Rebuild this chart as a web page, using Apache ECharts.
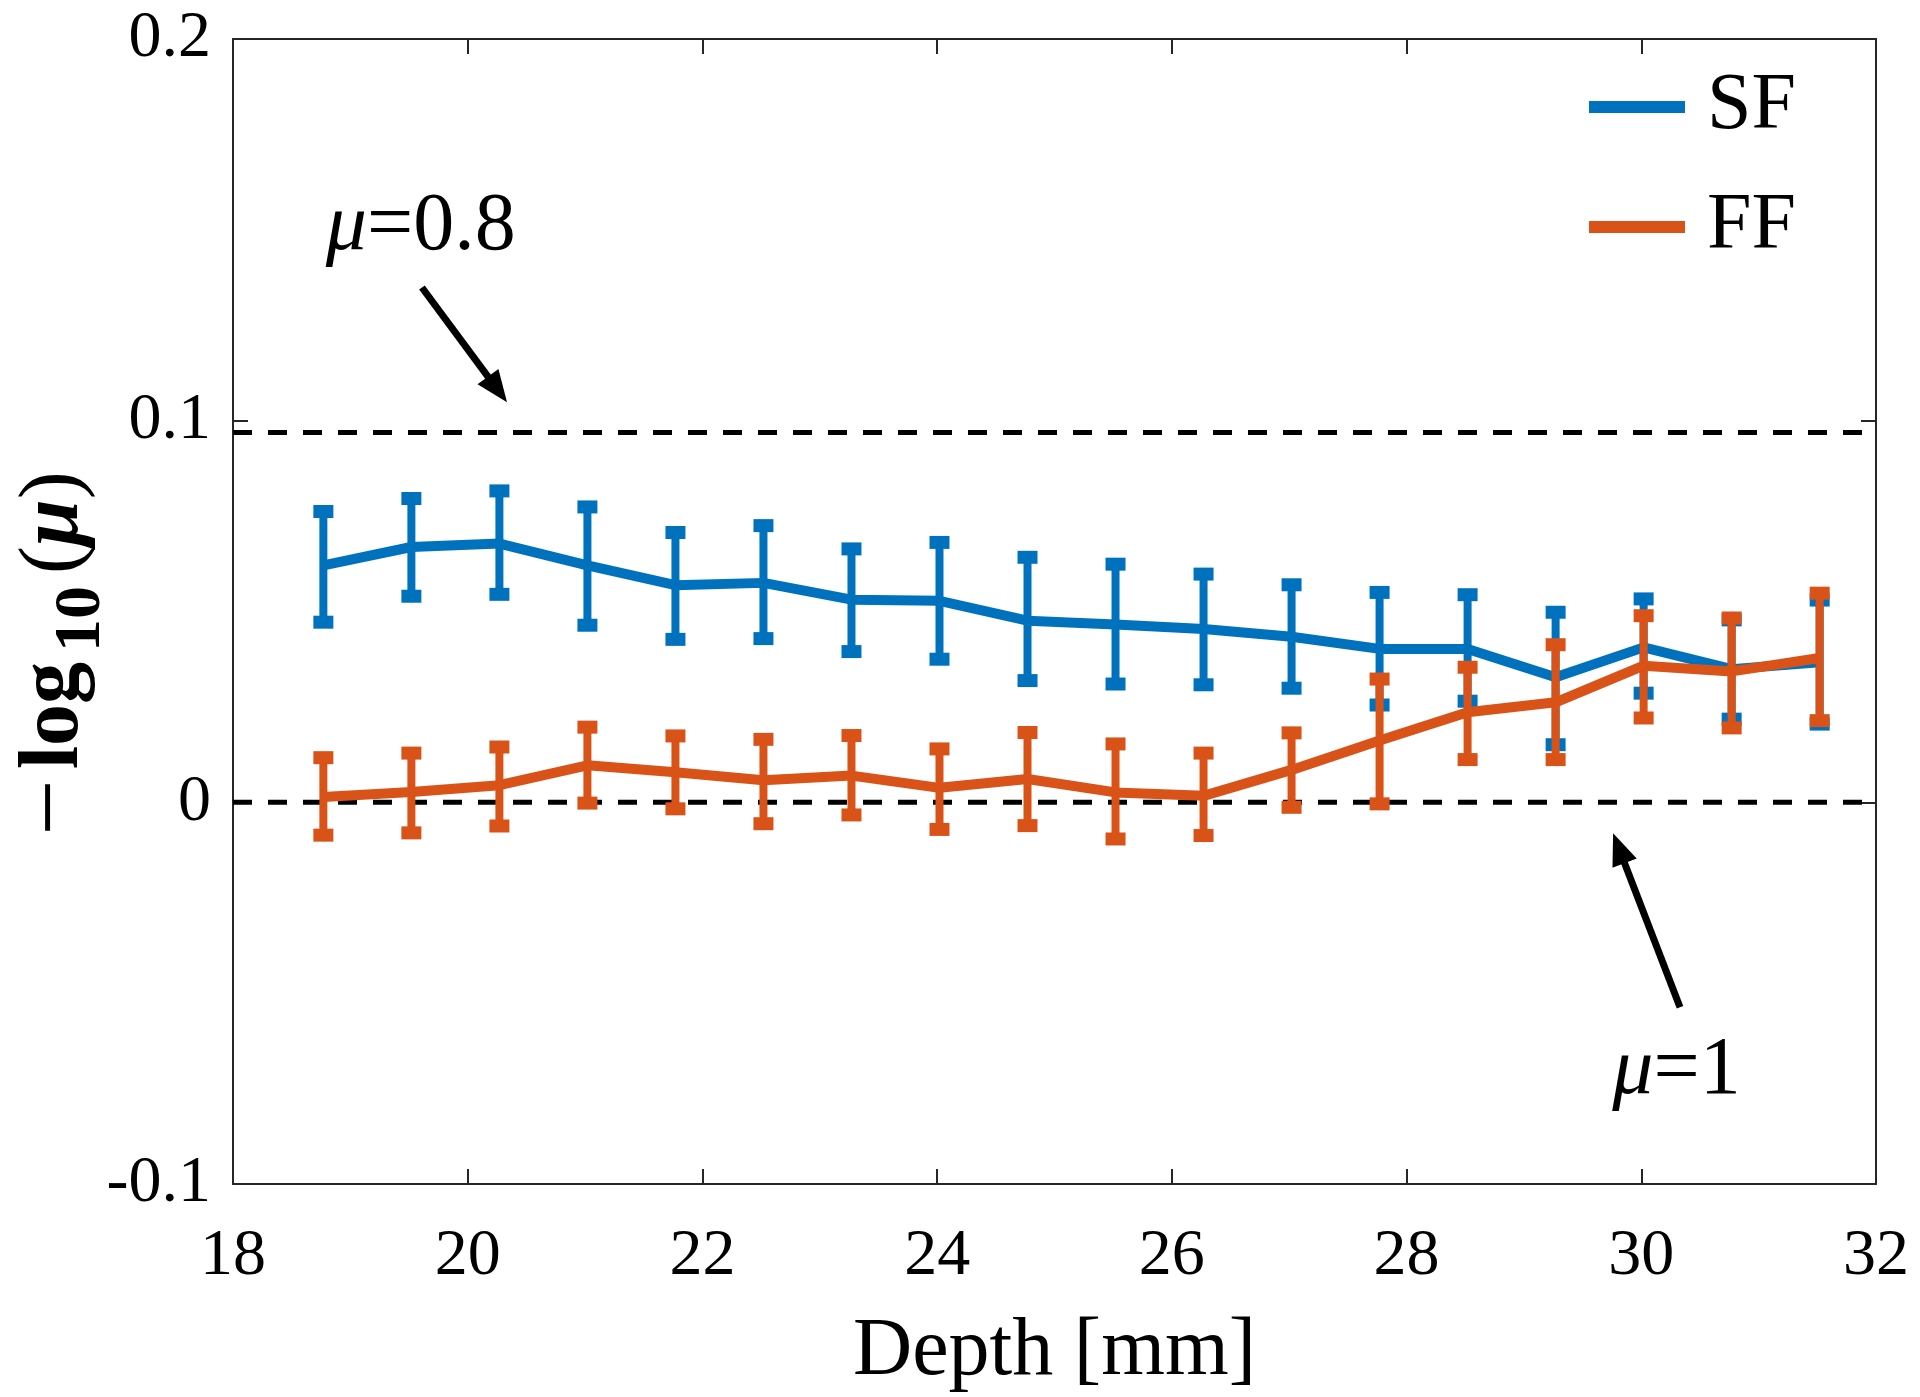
<!DOCTYPE html>
<html>
<head>
<meta charset="utf-8">
<script src="https://cdn.jsdelivr.net/npm/echarts@6/dist/echarts.min.js"></script>
<style>
  html, body { margin: 0; padding: 0; background: #ffffff; }
  #chart { width: 1920px; height: 1397px; }
</style>
</head>
<body>
<div id="chart"></div>
<script>
// ---------------- DATA ----------------
const depth = [18.77, 19.52, 20.27, 21.02, 21.77, 22.52, 23.27, 24.02, 24.77, 25.52, 26.27, 27.02, 27.77, 28.52, 29.27, 30.02, 30.77, 31.52];

const sfMean = [0.0621, 0.0669, 0.0678, 0.0621, 0.0569, 0.0575, 0.0531, 0.0528, 0.0476, 0.0466, 0.0454, 0.0434, 0.0402, 0.0402, 0.0328, 0.0406, 0.0349, 0.0367];
const sfLow  = [0.0472, 0.0540, 0.0545, 0.0464, 0.0427, 0.0429, 0.0395, 0.0375, 0.0319, 0.0310, 0.0308, 0.0299, 0.0255, 0.0265, 0.0151, 0.0286, 0.0218, 0.0205];
const sfHigh = [0.0762, 0.0796, 0.0816, 0.0774, 0.0707, 0.0725, 0.0664, 0.0681, 0.0642, 0.0624, 0.0598, 0.0570, 0.0550, 0.0544, 0.0498, 0.0533, 0.0478, 0.0530];

const ffMean = [0.0014, 0.0027, 0.0045, 0.0097, 0.0079, 0.0058, 0.0070, 0.0038, 0.0061, 0.0026, 0.0017, 0.0085, 0.0162, 0.0236, 0.0262, 0.0358, 0.0343, 0.0378];
const ffLow  = [-0.0086, -0.0080, -0.0062, -0.0002, -0.0017, -0.0056, -0.0033, -0.0071, -0.0061, -0.0096, -0.0087, -0.0013, -0.0004, 0.0112, 0.0112, 0.0221, 0.0195, 0.0214];
const ffHigh = [0.0117, 0.0129, 0.0145, 0.0197, 0.0174, 0.0165, 0.0175, 0.0140, 0.0183, 0.0153, 0.0129, 0.0182, 0.0323, 0.0354, 0.0413, 0.0489, 0.0483, 0.0548];

const seriesNames = ['SF', 'FF'];
const refLineValues = [0.0969, 0];          // dashed lines: mu = 0.8, mu = 1
const xTickLabels = ['18', '20', '22', '24', '26', '28', '30', '32'];
const yTickLabels = ['-0.1', '0', '0.1', '0.2'];

// annotations (data coordinates)
const annotTexts = ['{i|μ}=0.8', '{i|μ}=1'];
const annotX = [19.60, 30.30];
const annotY = [0.1505, -0.0705];
const arrowFrom = [[19.61, 0.1349], [30.33, -0.0537]];
const arrowTo   = [[20.335, 0.1048], [29.76, -0.0081]];

// ---------------- STYLE ----------------
const FONT = "'Liberation Serif', 'Times New Roman', serif";
const BLUE = '#0072BD';
const ORANGE = '#D95319';
const AXIS = '#262626';

const xMin = 18, xMax = 32, xInterval = 2;
const yMin = -0.1, yMax = 0.2, yInterval = 0.1;

function errRender(color) {
  return function (params, api) {
    const x = api.value(0), lo = api.value(1), hi = api.value(2);
    const pLo = api.coord([x, lo]);
    const pHi = api.coord([x, hi]);
    const capW = 20, capH = 13;
    return {
      type: 'group',
      children: [
        { type: 'line', shape: { x1: pLo[0], y1: pLo[1], x2: pHi[0], y2: pHi[1] }, style: { stroke: color, lineWidth: 8 } },
        { type: 'rect', shape: { x: pHi[0] - capW / 2, y: pHi[1] - capH / 2, width: capW, height: capH }, style: { fill: color } },
        { type: 'rect', shape: { x: pLo[0] - capW / 2, y: pLo[1] - capH / 2, width: capW, height: capH }, style: { fill: color } }
      ]
    };
  };
}

function refLineRender(params, api) {
  const v = api.value(0);
  const a = api.coord([xMin, v]);
  const b = api.coord([xMax, v]);
  return {
    type: 'line',
    shape: { x1: a[0], y1: a[1], x2: b[0], y2: b[1] },
    style: { stroke: '#000', lineWidth: 5, lineDash: [19, 16] }
  };
}

function arrowRender(params, api) {
  const a = api.coord([api.value(0), api.value(1)]);
  const b = api.coord([api.value(2), api.value(3)]);
  const dx = b[0] - a[0], dy = b[1] - a[1];
  const len = Math.sqrt(dx * dx + dy * dy);
  const ux = dx / len, uy = dy / len;
  const headL = 32, headW = 13;
  const base = [b[0] - ux * headL, b[1] - uy * headL];
  const px = -uy, py = ux;
  return {
    type: 'group',
    children: [
      { type: 'line', shape: { x1: a[0], y1: a[1], x2: base[0] + ux * 4, y2: base[1] + uy * 4 }, style: { stroke: '#000', lineWidth: 7 } },
      { type: 'polygon', shape: { points: [[b[0], b[1]], [base[0] + px * headW, base[1] + py * headW], [base[0] - px * headW, base[1] - py * headW]] }, style: { fill: '#000' } }
    ]
  };
}

function textRender(params, api) {
  const p = api.coord([api.value(0), api.value(1)]);
  return {
    type: 'text',
    x: p[0], y: p[1],
    style: {
      text: annotTexts[params.dataIndex],
      fontFamily: FONT, fontSize: 82, fill: '#000',
      align: 'center', verticalAlign: 'middle',
      rich: { i: { fontFamily: FONT, fontSize: 82, fontStyle: 'italic', fill: '#000' } }
    }
  };
}

const chart = echarts.init(document.getElementById('chart'), null, { renderer: 'canvas' });

const yLabelFmt = function (v) {
  const idx = Math.round((v - yMin) / yInterval);
  return yTickLabels[idx] !== undefined ? yTickLabels[idx] : '';
};
const xLabelFmt = function (v) {
  const idx = Math.round((v - xMin) / xInterval);
  return xTickLabels[idx] !== undefined ? xTickLabels[idx] : '';
};

const yName = '{m|−}{l|log}{s|10}{p|(}{mu|μ}{p|)}';

const option = {
  animation: false,
  backgroundColor: '#ffffff',
  grid: { left: 233, right: 44, top: 39, bottom: 213, containLabel: false, outerBoundsMode: 'none' },
  legend: {
    orient: 'vertical',
    left: 1584, top: 62,
    itemWidth: 96, itemHeight: 12, itemGap: 40,
    icon: 'rect',
    data: [{ name: seriesNames[0], icon: 'rect' }, { name: seriesNames[1], icon: 'rect' }],
    textStyle: { fontFamily: FONT, fontSize: 80, color: '#000', lineHeight: 80, padding: [0, 0, 0, 17] },
    selectedMode: false
  },
  xAxis: [
    {
      type: 'value', min: xMin, max: xMax, interval: xInterval, position: 'bottom',
      name: 'Depth [mm]', nameLocation: 'middle', nameGap: 168, nameMoveOverlap: false,
      nameTextStyle: { fontFamily: FONT, fontSize: 82, color: '#000', verticalAlign: 'middle' },
      axisLine: { show: true, onZero: false, lineStyle: { color: AXIS, width: 2 } },
      axisTick: { show: true, inside: true, length: 15, lineStyle: { color: AXIS, width: 2 } },
      axisLabel: { show: true, fontFamily: FONT, fontSize: 66, color: '#000', margin: 40, formatter: xLabelFmt },
      splitLine: { show: false }
    },
    {
      type: 'value', min: xMin, max: xMax, interval: xInterval, position: 'top',
      axisLine: { show: true, onZero: false, lineStyle: { color: AXIS, width: 2 } },
      axisTick: { show: true, inside: true, length: 15, lineStyle: { color: AXIS, width: 2 } },
      axisLabel: { show: false },
      splitLine: { show: false }
    }
  ],
  yAxis: [
    {
      type: 'value', min: yMin, max: yMax, interval: yInterval, position: 'left',
      name: yName, nameLocation: 'middle', nameGap: 118, nameRotate: 90, nameMoveOverlap: false,
      nameTextStyle: {
        fontFamily: FONT, fontSize: 84, color: '#000',
        padding: [0, 84, 0, 0],
        rich: {
          m: { fontFamily: FONT, fontSize: 100, color: '#000', lineHeight: 120, verticalAlign: 'middle', padding: [0, 10, 0, 0] },
          l: { fontFamily: FONT, fontSize: 84, fontWeight: 'bold', color: '#000', lineHeight: 120, verticalAlign: 'middle' },
          s: { fontFamily: FONT, fontSize: 66, fontWeight: 'bold', color: '#000', lineHeight: 72, verticalAlign: 'bottom', padding: [0, 12, 0, 10] },
          p: { fontFamily: FONT, fontSize: 84, color: '#000', lineHeight: 120, verticalAlign: 'middle' },
          mu: { fontFamily: FONT, fontSize: 84, fontWeight: 'bold', fontStyle: 'italic', color: '#000', lineHeight: 120, verticalAlign: 'middle' }
        }
      },
      axisLine: { show: true, onZero: false, lineStyle: { color: AXIS, width: 2 } },
      axisTick: { show: true, inside: true, length: 15, lineStyle: { color: AXIS, width: 2 } },
      axisLabel: { show: true, fontFamily: FONT, fontSize: 66, color: '#000', margin: 22, formatter: yLabelFmt },
      splitLine: { show: false }
    },
    {
      type: 'value', min: yMin, max: yMax, interval: yInterval, position: 'right',
      axisLine: { show: true, onZero: false, lineStyle: { color: AXIS, width: 2 } },
      axisTick: { show: true, inside: true, length: 15, lineStyle: { color: AXIS, width: 2 } },
      axisLabel: { show: false },
      splitLine: { show: false }
    }
  ],
  series: [
    {
      name: 'refLines', type: 'custom', z: 1, renderItem: refLineRender,
      data: refLineValues.map(v => [v])
    },
    {
      name: 'SF-err', type: 'custom', z: 2, renderItem: errRender(BLUE),
      data: depth.map((d, i) => [d, sfLow[i], sfHigh[i]])
    },
    {
      name: seriesNames[0], type: 'line', z: 3, showSymbol: false, symbol: 'none',
      color: BLUE, lineStyle: { color: BLUE, width: 10 },
      data: depth.map((d, i) => [d, sfMean[i]])
    },
    {
      name: 'FF-err', type: 'custom', z: 4, renderItem: errRender(ORANGE),
      data: depth.map((d, i) => [d, ffLow[i], ffHigh[i]])
    },
    {
      name: seriesNames[1], type: 'line', z: 5, showSymbol: false, symbol: 'none',
      color: ORANGE, lineStyle: { color: ORANGE, width: 10 },
      data: depth.map((d, i) => [d, ffMean[i]])
    },
    {
      name: 'arrows', type: 'custom', z: 6, renderItem: arrowRender,
      data: arrowFrom.map((f, i) => [f[0], f[1], arrowTo[i][0], arrowTo[i][1]])
    },
    {
      name: 'annotations', type: 'custom', z: 6, renderItem: textRender,
      data: annotX.map((x, i) => [x, annotY[i]])
    }
  ]
};

chart.setOption(option);
</script>
</body>
</html>
